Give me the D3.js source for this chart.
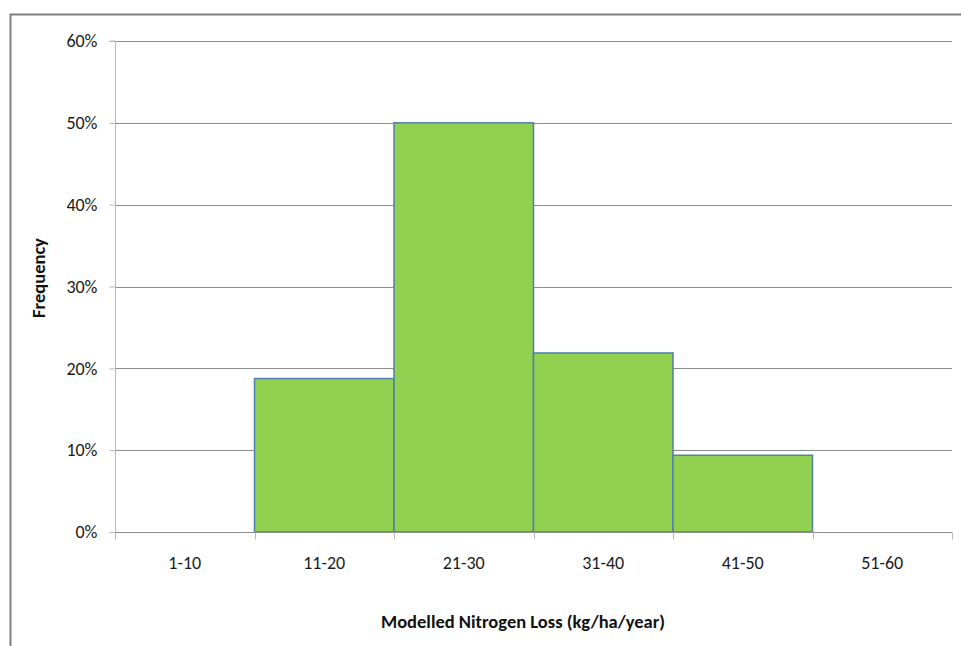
<!DOCTYPE html>
<html><head><meta charset="utf-8">
<script src="https://cdn.jsdelivr.net/npm/d3@7"></script>
<style>
html,body{margin:0;padding:0;background:#fff;}
svg{display:block;font-family:Calibri, Carlito, Lato, "Open Sans", sans-serif;}
</style></head>
<body><svg id="c" width="961" height="646"></svg>
<script>
const categories = ["1-10","11-20","21-30","31-40","41-50","51-60"];
const frequency = [0, 0.1875, 0.50, 0.21875, 0.09375, 0];
const yTicks = [0,0.1,0.2,0.3,0.4,0.5,0.6];
const xTitle = "Modelled Nitrogen Loss (kg/ha/year)";
const yTitle = "Frequency";

const svg = d3.select("#c");
const m = {left:115, right:9, top:41, bottom:114};
const W = 961, H = 646;
const FONT = "Calibri, Carlito, Lato, sans-serif";

// outer chart border
svg.append("path").attr("d", `M10.5,${H} V14.5 H${W}`).attr("fill","none")
  .attr("stroke","#7f7f7f").attr("stroke-width",2);

const x = d3.scaleBand().domain(categories).range([m.left, W-m.right]).padding(0);
const y = d3.scaleLinear().domain([0,0.6]).range([H-m.bottom, m.top]);

// gridlines
svg.append("g").selectAll("line").data(yTicks.filter(d=>d>0)).join("line")
  .attr("x1", m.left).attr("x2", W-m.right)
  .attr("y1", d=>Math.round(y(d))+0.5).attr("y2", d=>Math.round(y(d))+0.5)
  .attr("stroke","#8c8c8c").attr("stroke-width",1);

// bars
svg.append("g").selectAll("rect").data(categories.map((c,i)=>({c,v:frequency[i]})).filter(d=>d.v>0)).join("rect")
  .attr("x", d=>x(d.c)).attr("width", x.bandwidth())
  .attr("y", d=>y(d.v)).attr("height", d=>y(0)-y(d.v))
  .attr("fill","#92d050").attr("stroke","#4f7fae").attr("stroke-width",1.5);

// y axis
const yAxis = d3.axisLeft(y).tickValues(yTicks).tickFormat(d3.format(".0%")).tickSize(6).tickPadding(12);
const gy = svg.append("g").attr("transform",`translate(${m.left+0.5},0)`).call(yAxis)
  .attr("font-size",18).attr("font-family",FONT);
gy.select(".domain").attr("stroke","#b8b8b8").attr("d", `M-6,${y(0.6)}H0V${y(0)+6}`);
gy.selectAll(".tick line").attr("stroke","#b8b8b8");
gy.selectAll(".tick text").attr("fill","#1a1a1a");

// x axis
const gx = svg.append("g").attr("transform",`translate(0,${Math.round(y(0))+0.5})`);
gx.append("line").attr("x1",m.left).attr("x2",W-m.right).attr("stroke","#8c8c8c");
const edges = categories.map(c=>x(c)).concat([x(categories[categories.length-1])+x.bandwidth()]);
gx.selectAll("line.t").data(edges).join("line").attr("class","t")
  .attr("x1",d=>Math.round(d)+0.5).attr("x2",d=>Math.round(d)+0.5).attr("y1",0).attr("y2",7)
  .attr("stroke","#b8b8b8");
gx.selectAll("text").data(categories).join("text")
  .attr("x", d=>x(d)+x.bandwidth()/2).attr("y", 36)
  .attr("text-anchor","middle").attr("font-size",18).attr("font-family",FONT).attr("fill","#1a1a1a").text(d=>d);

// titles
svg.append("text").attr("x",523).attr("y",628).attr("text-anchor","middle")
  .attr("font-size",18.5).attr("font-weight","bold").attr("font-family",FONT).attr("fill","#111").text(xTitle);
svg.append("text").attr("transform","translate(45,278) rotate(-90)").attr("text-anchor","middle")
  .attr("font-size",18.5).attr("font-weight","bold").attr("font-family",FONT).attr("fill","#111").text(yTitle);
</script></body></html>
